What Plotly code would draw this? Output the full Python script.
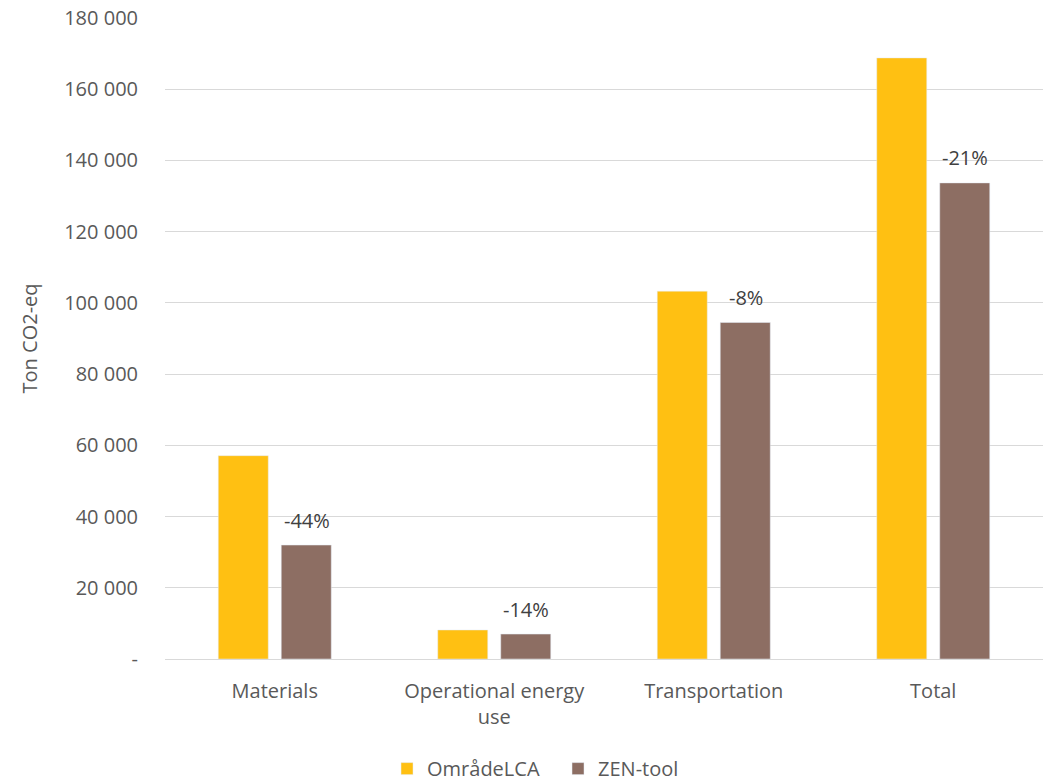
import plotly.graph_objects as go

categories = ["Materials", "Operational energy<br>use", "Transportation", "Total"]
omrade_lca = [57100, 8150, 103300, 168800]
zen_tool = [32000, 7000, 94500, 133700]
change_labels = ["-44%", "-14%", "-8%", "-21%"]
y_tickvals = [0, 20000, 40000, 60000, 80000, 100000, 120000, 140000, 160000, 180000]
y_ticktext = ["-", "20 000", "40 000", "60 000", "80 000", "100 000", "120 000", "140 000", "160 000", "180 000"]
y_title = "Ton CO2-eq"

font_family = "Open Sans, Liberation Sans, sans-serif"
text_color = "#595959"
fs = 20

fig = go.Figure()
fig.add_trace(go.Bar(name="OmrådeLCA", x=categories, y=omrade_lca, marker_color="#FFC012"))
fig.add_trace(go.Bar(name="ZEN-tool", x=categories, y=zen_tool, marker_color="#8D6E63"))

for i, (cat, val, lab) in enumerate(zip(categories, zen_tool, change_labels)):
    fig.add_annotation(x=cat, y=val, text=lab, showarrow=False, xshift=32,
                       yshift=25, font=dict(size=fs, color="#404040", family=font_family))

fig.add_annotation(xref="paper", yref="paper", x=-0.1538, y=0.5, text=y_title,
                   textangle=-90, showarrow=False, xanchor="center", yanchor="middle",
                   font=dict(size=fs, color=text_color, family=font_family))

fig.update_layout(
    width=1056, height=784,
    margin=dict(l=165, r=13, t=18, b=125, autoexpand=False),
    paper_bgcolor="white", plot_bgcolor="white",
    barmode="group", bargap=0.426, bargroupgap=0.206,
    font=dict(family=font_family, size=fs, color=text_color),
    showlegend=True,
    legend=dict(orientation="h", xref="container", yref="paper", x=0.3665, y=-0.171,
                xanchor="left", yanchor="middle", font=dict(size=fs, color=text_color),
                itemwidth=30, traceorder="normal", entrywidth=126, entrywidthmode="pixels"),
)
fig.update_xaxes(showgrid=False, showline=True, linecolor="#D9D9D9", linewidth=1,
                 ticks="outside", ticklen=14, tickcolor="rgba(0,0,0,0)", automargin=False,
                 tickfont=dict(size=fs, color=text_color))
fig.update_yaxes(range=[0, 180000], tickvals=y_tickvals, ticktext=y_ticktext,
                 showgrid=True, gridcolor="#D9D9D9", gridwidth=1, zeroline=False,
                 ticks="outside", ticklen=22, tickcolor="rgba(0,0,0,0)", automargin=False,
                 tickfont=dict(size=fs, color=text_color))

fig.write_html("out.html")
